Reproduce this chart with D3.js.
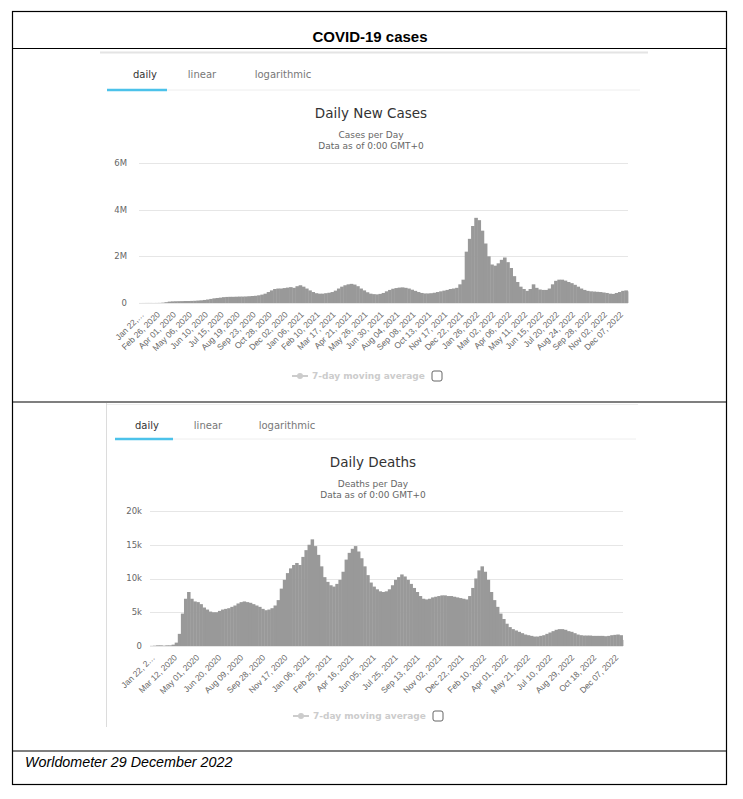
<!DOCTYPE html>
<meta charset="utf-8">
<style>
    body { margin: 0; background-color: #ffffff; }
    .hc { font-family: "DejaVu Sans", Verdana, sans-serif; }
    .grid line { stroke: #e6e6e6; stroke-width: 1px; shape-rendering: crispEdges; }
    .grid path { display: none; }
    .ylab text { fill: #666; font-size: 8.5px; }
    .xlab path, .xlab line { display: none; }
    .xlab text { fill: #666; font-size: 8.5px; }
    .bar { fill: #999999; }
</style>
<svg width="743" height="799"></svg>
<script src="https://d3js.org/d3.v7.min.js" charset="utf-8"></script>

<script>
    // weekly values, week k starts Jan 22 2020 + 7k days
    var casesWeekly = [
        1000, 2000, 3000, 3000, 2000, 3000, 5000, 15000, 35000, 60000,
        70000, 75000, 78000, 80000, 85000, 85000, 90000, 95000, 105000, 115000,
        130000, 150000, 175000, 200000, 215000, 230000, 250000, 260000, 265000, 265000,
        270000, 275000, 275000, 280000, 290000, 300000, 310000, 330000, 360000, 400000,
        470000, 540000, 600000, 620000, 620000, 640000, 660000, 680000, 650000, 720000,
        760000, 700000, 620000, 540000, 470000, 420000, 400000, 400000, 420000, 440000,
        470000, 530000, 620000, 700000, 760000, 800000, 820000, 790000, 720000, 620000,
        540000, 460000, 400000, 380000, 370000, 390000, 430000, 500000, 560000, 610000,
        640000, 660000, 670000, 650000, 620000, 570000, 520000, 470000, 430000, 410000,
        410000, 420000, 440000, 470000, 500000, 530000, 560000, 600000, 620000, 650000,
        800000, 1000000, 2200000, 2750000, 3300000, 3650000, 3550000, 3100000, 2550000, 2000000,
        1650000, 1600000, 1700000, 1850000, 1950000, 1750000, 1500000, 1150000, 900000, 700000,
        600000, 520000, 600000, 800000, 650000, 580000, 560000, 560000, 620000, 800000,
        950000, 1000000, 1000000, 960000, 900000, 850000, 780000, 700000, 620000, 560000,
        520000, 500000, 490000, 480000, 470000, 450000, 430000, 400000, 390000, 430000,
        470000, 520000, 540000, 500000
    ];

    var deathsWeekly = [
        20, 50, 100, 100, 50, 100, 100, 200, 500, 1800,
        4800, 7000, 8000, 7000, 6600, 6500, 6200, 5700, 5400, 5100,
        5000, 5000, 5200, 5400, 5500, 5600, 5800, 6000, 6300, 6500,
        6600, 6500, 6400, 6200, 6000, 5800, 5500, 5300, 5400, 5600,
        6000, 6800, 8500, 9800, 10800, 11500, 12000, 12300, 12000, 13200,
        14200, 15000, 15800, 14800, 13500, 11800, 10200, 9500, 9000, 8800,
        9200, 9800, 11000, 12800, 13800, 14400, 14800, 14000, 13000, 11800,
        10500, 9400, 8800, 8400, 8100, 8000, 8100, 8400, 9000, 9800,
        10200, 10600, 10300, 9800, 9200, 8600, 8000, 7400, 7000, 6900,
        7000, 7200, 7300, 7400, 7500, 7500, 7400, 7400, 7300, 7200,
        7100, 7000, 6900, 7400, 8600, 10000, 11200, 11800, 11000, 9800,
        8000, 6800, 5800, 4800, 4000, 3300, 2800, 2500, 2300, 2100,
        1900, 1700, 1600, 1500, 1400, 1400, 1500, 1600, 1800, 2000,
        2200, 2400, 2500, 2500, 2400, 2200, 2100, 1900, 1700, 1600,
        1550, 1550, 1550, 1500, 1500, 1500, 1500, 1450, 1500, 1600,
        1650, 1700, 1600, 900
    ];

    var casesTicks = ["Jan 22, 2020", "Feb 26, 2020", "Apr 01, 2020", "May 06, 2020", "Jun 10, 2020",
        "Jul 15, 2020", "Aug 19, 2020", "Sep 23, 2020", "Oct 28, 2020", "Dec 02, 2020",
        "Jan 06, 2021", "Feb 10, 2021", "Mar 17, 2021", "Apr 21, 2021", "May 26, 2021",
        "Jun 30, 2021", "Aug 04, 2021", "Sep 08, 2021", "Oct 13, 2021", "Nov 17, 2021",
        "Dec 22, 2021", "Jan 26, 2022", "Mar 02, 2022", "Apr 06, 2022", "May 11, 2022",
        "Jun 15, 2022", "Jul 20, 2022", "Aug 24, 2022", "Sep 28, 2022", "Nov 02, 2022",
        "Dec 07, 2022"];

    var deathsTicks = ["Jan 22, 2020", "Mar 12, 2020", "May 01, 2020", "Jun 20, 2020", "Aug 09, 2020",
        "Sep 28, 2020", "Nov 17, 2020", "Jan 06, 2021", "Feb 25, 2021", "Apr 16, 2021",
        "Jun 05, 2021", "Jul 25, 2021", "Sep 13, 2021", "Nov 02, 2021", "Dec 22, 2021",
        "Feb 10, 2022", "Apr 01, 2022", "May 21, 2022", "Jul 10, 2022", "Aug 29, 2022",
        "Oct 18, 2022", "Dec 07, 2022"];

    var casesY = [0, 2000000, 4000000, 6000000];
    var casesYLabels = ["0", "2M", "4M", "6M"];
    var deathsY = [0, 5000, 10000, 15000, 20000];
    var deathsYLabels = ["0", "5k", "10k", "15k", "20k"];

    var parse = d3.timeParse("%b %d, %Y");
    var start = parse("Jan 22, 2020"),
        end = parse("Dec 29, 2022");

    var svg = d3.select("svg");

    // ---- the table frame ----
    svg.append("rect").attr("x", 12.5).attr("y", 11.5).attr("width", 714).attr("height", 773)
        .attr("fill", "none").attr("stroke", "#000").attr("stroke-width", 1.2);
    [48.5, 402, 751].forEach(function(y) {
        svg.append("line").attr("x1", 12.5).attr("x2", 726.5).attr("y1", y).attr("y2", y)
            .attr("stroke", "#000").attr("stroke-width", 1.2);
    });
    svg.append("text").attr("x", 370).attr("y", 42).attr("text-anchor", "middle")
        .style("font-family", "'Liberation Sans Narrow', 'Liberation Sans', sans-serif")
        .style("font-weight", "bold").style("font-size", "15px").text("COVID-19 cases");
    svg.append("text").attr("x", 25).attr("y", 767)
        .style("font-family", "'Liberation Sans Narrow', 'Liberation Sans', sans-serif")
        .style("font-style", "italic").style("font-size", "14.3px").text("Worldometer 29 December 2022");

    // faint screenshot edges
    svg.append("line").attr("x1", 100).attr("x2", 648).attr("y1", 52.5).attr("y2", 52.5)
        .attr("stroke", "#e4e4e4").attr("stroke-width", 2);
    svg.append("line").attr("x1", 106.5).attr("x2", 106.5).attr("y1", 403).attr("y2", 727)
        .attr("stroke", "#dcdcdc");
    svg.append("line").attr("x1", 107).attr("x2", 638).attr("y1", 404.5).attr("y2", 404.5)
        .attr("stroke", "#eeeeee");

    function drawChart(c) {
        var g = svg.append("g").attr("class", "hc");

        // tabs
        var tabs = ["daily", "linear", "logarithmic"];
        g.selectAll(".tab").data(tabs).enter().append("text")
            .attr("class", "tab")
            .attr("x", function(d, i) { return c.tabX[i]; })
            .attr("y", c.tabY)
            .attr("text-anchor", "middle")
            .style("font-size", "10px")
            .style("fill", function(d, i) { return i == 0 ? "#333" : "#777"; })
            .text(function(d) { return d; });
        g.append("line").attr("x1", c.under[1]).attr("x2", c.lineEnd)
            .attr("y1", c.underY).attr("y2", c.underY).attr("stroke", "#eeeeee").attr("stroke-width", 1);
        g.append("line").attr("x1", c.under[0]).attr("x2", c.under[1])
            .attr("y1", c.underY).attr("y2", c.underY).attr("stroke", "#4cc2ea").attr("stroke-width", 2.5);

        // titles
        g.append("text").attr("x", c.titleX).attr("y", c.titleY).attr("text-anchor", "middle")
            .style("font-size", "13.5px").style("fill", "#333").text(c.title);
        g.append("text").attr("x", c.titleX).attr("y", c.titleY + 20).attr("text-anchor", "middle")
            .style("font-size", "9px").style("fill", "#666").text(c.subtitle);
        g.append("text").attr("x", c.titleX).attr("y", c.titleY + 31).attr("text-anchor", "middle")
            .style("font-size", "9px").style("fill", "#666").text("Data as of 0:00 GMT+0");

        var x = d3.scaleTime().domain([start, end]).range([c.x0, c.x1]);
        var y = d3.scaleLinear().domain([0, c.yMax]).range([c.y1, c.y0]);

        // grid + y labels
        g.append("g").attr("class", "grid")
            .attr("transform", "translate(" + c.x0 + ",0)")
            .call(d3.axisLeft(y).tickValues(c.yTicks).tickSize(-(c.x1 - c.x0)).tickFormat(""));
        g.append("g").attr("class", "ylab")
            .selectAll("text").data(c.yTicks).enter().append("text")
            .attr("x", c.yLabX).attr("y", function(d) { return y(d); })
            .attr("dy", "0.35em").attr("text-anchor", "end")
            .text(function(d, i) { return c.yLabels[i]; });

        // bars
        var bars = c.data.map(function(v, i) {
            return {date: d3.timeDay.offset(start, 7 * i), value: v};
        });
        g.selectAll(".bar").data(bars).enter().append("rect")
            .attr("class", "bar")
            .attr("x", function(d) { return x(d.date); })
            .attr("width", function(d) {
                var n = d3.timeDay.offset(d.date, 7);
                if (n > end) n = end;
                return x(n) - x(d.date) + 0.4;
            })
            .attr("y", function(d) { return y(d.value); })
            .attr("height", function(d) { return c.y1 - y(d.value); });

        // x labels, rotated
        var tickDates = c.ticks.map(parse);
        var xa = g.append("g").attr("class", "xlab")
            .attr("transform", "translate(0," + c.y1 + ")")
            .call(d3.axisBottom(x).tickValues(tickDates).tickSize(0)
                .tickFormat(function(d, i) { return c.ticks[i]; }));
        xa.selectAll(".tick text")
            .attr("text-anchor", "end")
            .attr("dy", "0.35em")
            .attr("y", 0)
            .attr("transform", "translate(3,10) rotate(-45)")
            .each(function(d, i) {
                if (i > 0) return;
                // first label runs off the chart's left edge: ellipsis like Highcharts
                var t = d3.select(this), s = t.text();
                while (this.getComputedTextLength() > c.firstMax && s.length > 1) {
                    s = s.slice(0, -1);
                    t.text(s.replace(/\s+$/, "") + "…");
                }
            });

        // legend
        var lg = g.append("g").attr("transform", "translate(0," + c.legendY + ")");
        lg.append("line").attr("x1", c.legendX - 20).attr("x2", c.legendX - 4)
            .attr("stroke", "#cccccc").attr("stroke-width", 2);
        lg.append("circle").attr("cx", c.legendX - 12).attr("r", 3).attr("fill", "#cccccc");
        lg.append("text").attr("x", c.legendX).attr("dy", "0.35em")
            .style("font-size", "9px").style("font-weight", "bold").style("fill", "#cccccc")
            .text("7-day moving average");
        lg.append("rect").attr("x", c.boxX).attr("y", -5).attr("width", 10).attr("height", 10)
            .attr("rx", 2).attr("fill", "#fff").attr("stroke", "#666").attr("stroke-width", 1);
    }

    drawChart({
        tabX: [145, 202, 283], tabY: 78, under: [107, 167], underY: 90, lineEnd: 640,
        title: "Daily New Cases", subtitle: "Cases per Day", titleX: 371, titleY: 118,
        x0: 139, x1: 628, y0: 163, y1: 303, yMax: 6000000, yTicks: casesY, yLabels: casesYLabels, yLabX: 127,
        data: casesWeekly, ticks: casesTicks, firstMax: 40,
        legendY: 376, legendX: 312, boxX: 432
    });

    drawChart({
        tabX: [147, 208, 287], tabY: 429, under: [115, 173], underY: 439, lineEnd: 636,
        title: "Daily Deaths", subtitle: "Deaths per Day", titleX: 373, titleY: 467,
        x0: 150, x1: 623, y0: 511, y1: 646, yMax: 20000, yTicks: deathsY, yLabels: deathsYLabels, yLabX: 142,
        data: deathsWeekly, ticks: deathsTicks, firstMax: 46,
        legendY: 716, legendX: 313, boxX: 433
    });
</script>
